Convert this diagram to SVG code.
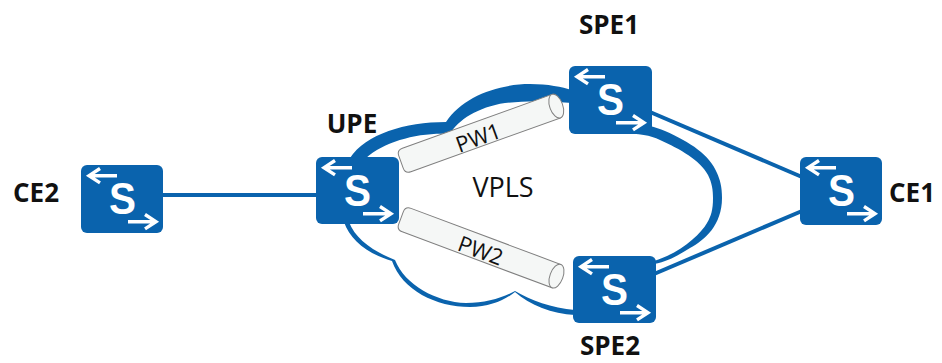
<svg xmlns="http://www.w3.org/2000/svg" width="942" height="363" viewBox="0 0 942 363">
<style>
.box{fill:#0a63ad}
.sw{fill:#fff;font-family:"Liberation Sans",Arial,sans-serif;font-weight:700;font-size:44px;text-anchor:middle}
.arr{fill:none;stroke:#fff;stroke-width:3.4;stroke-linejoin:miter}
.link{stroke:#0a63ad;stroke-width:4;fill:none}
.cloud{fill:#0a63ad}
.pipe{fill:#f5f7f6;stroke:#7f7f7f;stroke-width:1}
.lbl{font-family:"Open Sans","Noto Sans",sans-serif;fill:#111;text-anchor:middle}
.b{font-weight:700;font-size:26px}
.n{font-size:27px}
.p{font-size:22px}
</style>
<defs>
<g id="arrows">
<path class="arr" d="M36 10.7H8M19 3.5L8 10.7L19 17.900"/>
<path class="arr" d="M47 56.700H75M64 49.500L75 56.700L64 63.900"/>
</g>
</defs>
<g id="cloud">
<path class="cloud" d="M350 158C366 134 405 122 446 122C462 97 498 84 530 84C548 84 562 87 572 90L572 103C558 102 530 100 505 103C478 107 458 120 450 134C420 132 385 141 366 158Z"/>
<path class="cloud" d="M620 133C640 134 650 135 660 140C680 149 700 160 708 175C712 183 713 190 713 198C713 210 711 216 707 223C700 235 680 253 654 261L654 264C670 261 680 254 690 248C705 240 722 225 722 198C722 186 720 180 717 173C710 155 690 142 665 131C660 129 655 127 650 126Z"/>
<path class="cloud" d="M344 222C350 240 368 254 392 261C402 290 436 307 470 307C490 307 505 300 515 292C530 305 552 314 575 315L575 310C552 308 530 300 515 291C502 298 486 303 466 303C436 302 405 285 395 260C372 251 355 238 349 222Z"/>
</g>
<g id="connectors">
<path class="link" d="M163 195H318"/>
<path class="link" d="M650 112L802 177"/>
<path class="link" d="M654 274L802 211"/>
</g>
<g id="pw1">
<g transform="translate(401 162) rotate(-19.8)">
<path class="pipe" d="M6 -12.500H165V12.500H6Q0 12.500 0 6.500V-6.500Q0 -12.500 6 -12.500Z"/>
<ellipse class="pipe" cx="165" cy="0" rx="6.500" ry="12.500"/>
</g>
<text class="lbl p" transform="translate(481 145) rotate(-20)">PW1</text>
</g>
<g id="pw2">
<g transform="translate(401 218) rotate(20.5)">
<path class="pipe" d="M6 -12.500H166V12.500H6Q0 12.500 0 6.500V-6.500Q0 -12.500 6 -12.500Z"/>
<ellipse class="pipe" cx="166" cy="0" rx="6.500" ry="12.500"/>
</g>
<text class="lbl p" transform="translate(478 258) rotate(20)">PW2</text>
</g>
<text id="vpls" class="lbl n" x="503" y="197">VPLS</text>
<g id="CE2" transform="translate(81 165)">
<rect class="box" width="82" height="68" rx="6"/><use href="#arrows"/><text class="sw" transform="translate(41.500 49) scale(.92 1)">S</text>
</g>
<text class="lbl b" x="36" y="202">CE2</text>
<g id="UPE" transform="translate(316 157)">
<rect class="box" width="83" height="67" rx="6"/><use href="#arrows"/><text class="sw" transform="translate(41.500 49) scale(.92 1)">S</text>
</g>
<text class="lbl b" x="352" y="133">UPE</text>
<g id="SPE1" transform="translate(569 66)">
<rect class="box" width="83" height="68" rx="6"/><use href="#arrows"/><text class="sw" transform="translate(41.500 49) scale(.92 1)">S</text>
</g>
<text class="lbl b" x="609" y="34">SPE1</text>
<g id="SPE2" transform="translate(573 256)">
<rect class="box" width="83" height="67" rx="6"/><use href="#arrows"/><text class="sw" transform="translate(41.500 49) scale(.92 1)">S</text>
</g>
<text class="lbl b" x="610" y="355">SPE2</text>
<g id="CE1" transform="translate(800 157)">
<rect class="box" width="82" height="68" rx="6"/><use href="#arrows"/><text class="sw" transform="translate(41.500 49) scale(.92 1)">S</text>
</g>
<text class="lbl b" x="912" y="202">CE1</text>
</svg>
